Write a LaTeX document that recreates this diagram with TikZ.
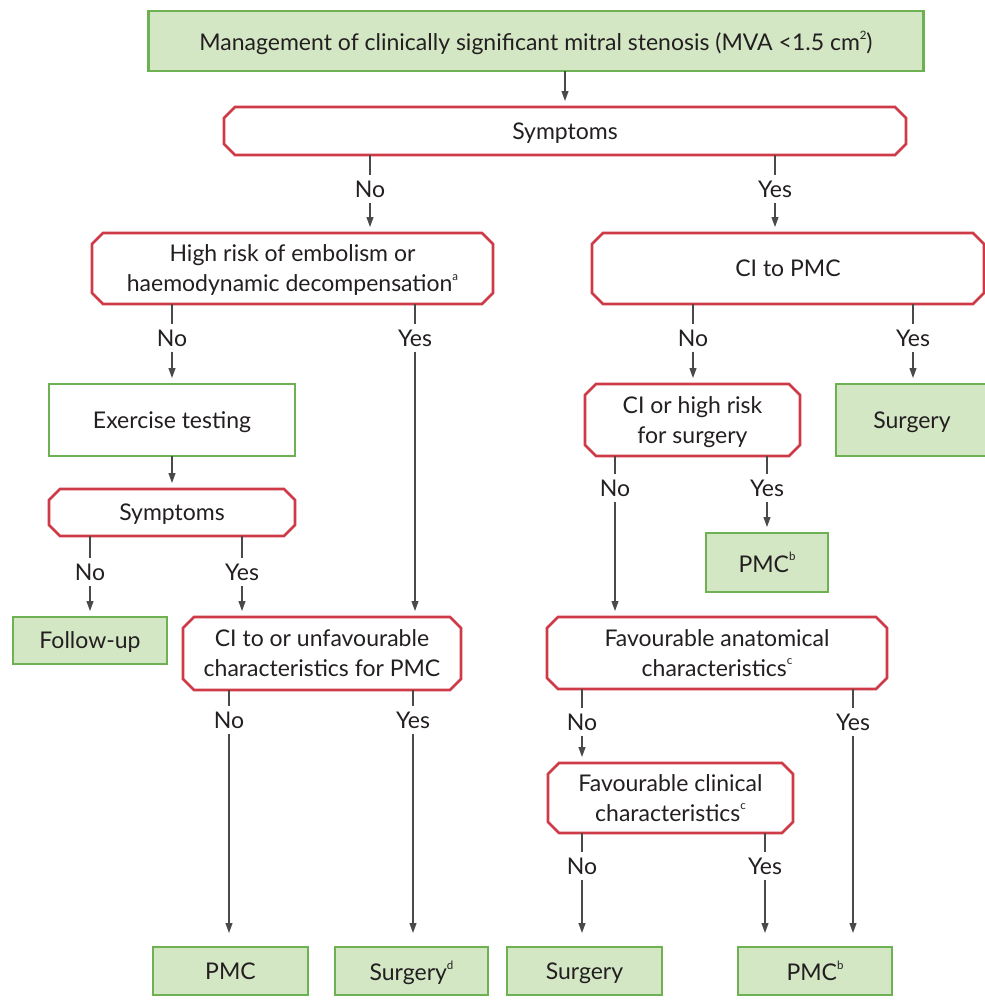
\documentclass[tikz,border=0pt]{standalone}
\usepackage{fontspec}
\setmainfont{Lato}
\usetikzlibrary{arrows.meta}
\definecolor{decred}{HTML}{CF3A47}
\definecolor{actgreen}{HTML}{6EB152}
\definecolor{actfill}{HTML}{D4E7C4}
\definecolor{linegray}{HTML}{4A4A4A}
\definecolor{txt}{HTML}{231F20}
\newcommand\sups[1]{\raisebox{0.5em}{\fontsize{11.5}{11.5}\selectfont #1}}
\newcommand\chm{11pt}
% chamfered outline around a (hidden) decision node
\newcommand\octbox[1]{%
  \draw[decline] ([xshift=\chm]#1.north west) -- ([xshift=-\chm]#1.north east)
    -- ([yshift=-\chm]#1.north east) -- ([yshift=\chm]#1.south east)
    -- ([xshift=-\chm]#1.south east) -- ([xshift=\chm]#1.south west)
    -- ([yshift=\chm]#1.south west) -- ([yshift=-\chm]#1.north west) -- cycle;}
\begin{document}
\begin{tikzpicture}[x=1pt,y=-1pt,
  base/.style={font=\fontsize{23}{30}\selectfont, text=txt, align=center,
    inner sep=0pt, outer sep=0pt, text depth=0pt},
  decision/.style={base},
  decline/.style={draw=decred, line width=2.6pt, line join=miter},
  action/.style={base, draw=actgreen, line width=2.6pt, fill=actfill},
  plain/.style={base, draw=actgreen, line width=2.6pt, fill=white},
  lbl/.style={font=\fontsize{23}{26}\selectfont, text=txt, inner xsep=2pt,
    inner ysep=5.5pt, text height=16pt, text depth=0pt},
  conn/.style={draw=linegray, line width=1.1pt},
  arr/.style={conn, -{Triangle[length=10pt,width=7pt]}, shorten >=6pt},
  farr/.style={arr, shorten >=14pt}]
\useasboundingbox (0,0) rectangle (985,1007);

% boxes
\node[action, minimum width=775pt, minimum height=60pt] (top) at (536,41)
  {Management of clinically significant mitral stenosis (MVA <1.5 cm\sups{2})};
\node[decision, minimum width=682pt, minimum height=48pt] (sym) at (565,131) {Symptoms};
\node[decision, minimum width=401pt, minimum height=71pt] (hr) at (292.5,268.5)
  {High risk of embolism or\\haemodynamic decompensation\sups{a}};
\node[decision, minimum width=392pt, minimum height=71pt] (ci) at (788,268.5) {CI to PMC};
\node[plain, minimum width=246pt, minimum height=72pt] (ex) at (172,420) {Exercise testing};
\node[decision, minimum width=246pt, minimum height=47pt] (sym2) at (172,512.5) {Symptoms};
\node[action, minimum width=154pt, minimum height=47pt] (fu) at (90,640.5) {Follow-up};
\node[decision, minimum width=278pt, minimum height=73pt] (cu) at (322,653.5)
  {CI to or unfavourable\\characteristics for PMC};
\node[action, minimum width=152pt, minimum height=72pt] (sr) at (912,420) {Surgery};
\node[decision, minimum width=215pt, minimum height=72pt] (cr) at (692.5,420)
  {CI or high risk\\for surgery};
\node[action, minimum width=122pt, minimum height=59pt] (pb) at (767,562.5) {PMC\sups{b}};
\node[decision, minimum width=340pt, minimum height=72pt] (fa) at (717,653)
  {Favourable anatomical\\characteristics\sups{c}};
\node[decision, minimum width=245pt, minimum height=70pt] (fc) at (670.5,798)
  {Favourable clinical\\characteristics\sups{c}};
\node[action, minimum width=155pt, minimum height=48pt] (b1) at (230.5,971) {PMC};
\node[action, minimum width=153pt, minimum height=48pt] (b2) at (411.5,971) {Surgery\sups{d}};
\node[action, minimum width=155pt, minimum height=48pt] (b3) at (584.5,971) {Surgery};
\node[action, minimum width=154pt, minimum height=48pt] (b4) at (815,971) {PMC\sups{b}};

\foreach \n in {sym,hr,ci,sym2,cu,cr,fa,fc} {\octbox{\n}}

% branch labels
\node[lbl] (symN) at (370,189) {No};
\node[lbl] (symY) at (775,189) {Yes};
\node[lbl] (hrN) at (172,338) {No};
\node[lbl] (hrY) at (415,338) {Yes};
\node[lbl] (ciN) at (693,338) {No};
\node[lbl] (ciY) at (913,338) {Yes};
\node[lbl] (crN) at (615,488) {No};
\node[lbl] (crY) at (767,488) {Yes};
\node[lbl] (s2N) at (90,572) {No};
\node[lbl] (s2Y) at (242,572) {Yes};
\node[lbl] (cuN) at (229,720) {No};
\node[lbl] (cuY) at (413,720) {Yes};
\node[lbl] (faN) at (582,722) {No};
\node[lbl] (faY) at (853,722) {Yes};
\node[lbl] (fcN) at (582,866) {No};
\node[lbl] (fcY) at (765,866) {Yes};

% connectors
\draw[arr] (top.south -| sym) -- (sym.north);
\draw[conn] (sym.south -| symN) -- (symN.north);
\draw[arr] (symN.south) -- (hr.north -| symN);
\draw[conn] (sym.south -| symY) -- (symY.north);
\draw[arr] (symY.south) -- (ci.north -| symY);

\draw[conn] (hr.south -| hrN) -- (hrN.north);
\draw[arr] (hrN.south) -- (ex.north -| hrN);
\draw[conn] (hr.south -| hrY) -- (hrY.north);
\draw[arr] (hrY.south) -- (cu.north -| hrY);
\draw[arr] (ex.south) -- (sym2.north);
\draw[conn] (sym2.south -| s2N) -- (s2N.north);
\draw[arr] (s2N.south) -- (fu.north -| s2N);
\draw[conn] (sym2.south -| s2Y) -- (s2Y.north);
\draw[arr] (s2Y.south) -- (cu.north -| s2Y);
\draw[conn] (cu.south -| cuN) -- (cuN.north);
\draw[farr] (cuN.south) -- (b1.north -| cuN);
\draw[conn] (cu.south -| cuY) -- (cuY.north);
\draw[farr] (cuY.south) -- (b2.north -| cuY);

\draw[conn] (ci.south -| ciN) -- (ciN.north);
\draw[arr] (ciN.south) -- (cr.north -| ciN);
\draw[conn] (ci.south -| ciY) -- (ciY.north);
\draw[arr] (ciY.south) -- (sr.north -| ciY);
\draw[conn] (cr.south -| crN) -- (crN.north);
\draw[arr] (crN.south) -- (fa.north -| crN);
\draw[conn] (cr.south -| crY) -- (crY.north);
\draw[arr] (crY.south) -- (pb.north -| crY);
\draw[conn] (fa.south -| faN) -- (faN.north);
\draw[arr] (faN.south) -- (fc.north -| faN);
\draw[conn] (fa.south -| faY) -- (faY.north);
\draw[farr] (faY.south) -- (b4.north -| faY);
\draw[conn] (fc.south -| fcN) -- (fcN.north);
\draw[farr] (fcN.south) -- (b3.north -| fcN);
\draw[conn] (fc.south -| fcY) -- (fcY.north);
\draw[farr] (fcY.south) -- (b4.north -| fcY);
\end{tikzpicture}
\end{document}
